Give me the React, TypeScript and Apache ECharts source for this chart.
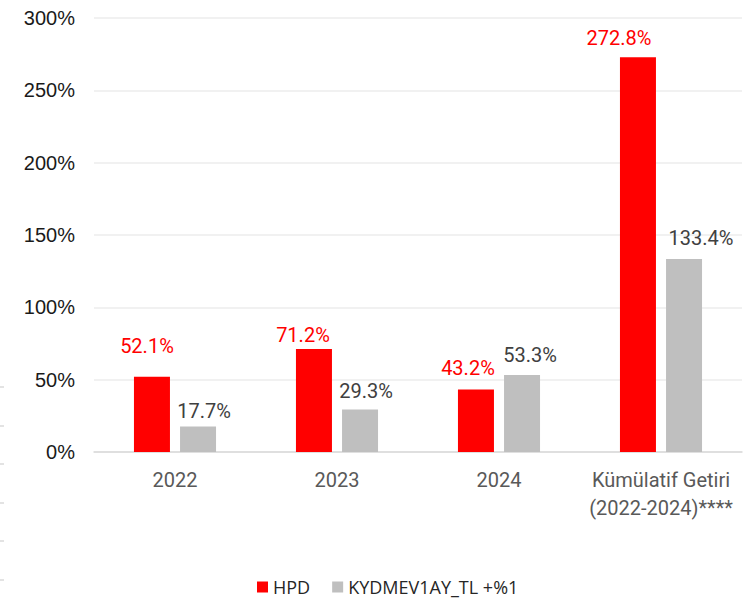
import React, { useEffect, useRef } from "react";
import * as echarts from "echarts";

const categories = ["2022", "2023", "2024", "Kümülatif Getiri\n(2022-2024)****"];
const hpdValues = [52.1, 71.2, 43.2, 272.8];
const kydValues = [17.7, 29.3, 53.3, 133.4];
const seriesNames = ["HPD", "KYDMEV1AY_TL +%1"];
const hpdLabelOffsets = [[-5, -16], [-11, 1], [-8, -7], [-19, -4]];
const kydLabelOffsets = [[6, 0], [6, -4], [8, -5], [17, -6]];
const edgeDashY = [387, 426, 464, 503, 541, 580];

export default function App() {
  const ref = useRef<HTMLDivElement>(null);
  useEffect(() => {
    if (!ref.current) return;
    const chart = echarts.init(ref.current, undefined, { renderer: "svg" });
    const fmt = (p: any) => Number(p.value).toFixed(1) + "%";
    chart.setOption({
      animation: false,
      backgroundColor: "#ffffff",
      grid: { left: 94, right: 3, top: 18, bottom: 152, containLabel: false },
      legend: {
        left: 257,
        top: 578,
        padding: 0,
        itemWidth: 11,
        itemHeight: 11,
        itemGap: 22,
        icon: "rect",
        textStyle: { fontFamily: "Open Sans", fontSize: 18, color: "#262626" },
        data: seriesNames,
      },
      xAxis: {
        type: "category",
        data: categories,
        axisTick: { show: false },
        axisLine: { lineStyle: { color: "#d9d9d9", width: 1.5 } },
        axisLabel: {
          interval: 0,
          margin: 14,
          fontFamily: "Roboto",
          fontSize: 20,
          color: "#595959",
          lineHeight: 28,
        },
      },
      yAxis: {
        type: "value",
        min: 0,
        max: 300,
        interval: 50,
        axisLine: { show: false },
        axisTick: { show: false },
        splitLine: { lineStyle: { color: "#ececec", width: 1.5 } },
        axisLabel: {
          margin: 19,
          fontFamily: "Liberation Sans",
          fontSize: 20,
          color: "#1a1a1a",
          formatter: (v: number) => v + "%",
        },
      },
      series: [
        {
          name: seriesNames[0],
          type: "bar",
          barWidth: 36,
          barGap: "28%",
          itemStyle: { color: "#ff0000" },
          data: hpdValues.map((v, i) => ({
            value: v,
            label: { offset: hpdLabelOffsets[i] },
          })),
          label: {
            show: true,
            position: "top",
            formatter: fmt,
            fontFamily: "Roboto",
            fontSize: 20,
            color: "#ff0000",
          },
        },
        {
          name: seriesNames[1],
          type: "bar",
          barWidth: 36,
          itemStyle: { color: "#bfbfbf" },
          data: kydValues.map((v, i) => ({
            value: v,
            label: { offset: kydLabelOffsets[i] },
          })),
          label: {
            show: true,
            position: "top",
            formatter: fmt,
            fontFamily: "Roboto",
            fontSize: 20,
            color: "#404040",
          },
        },
      ],
      graphic: edgeDashY.map((y) => ({
        type: "rect",
        shape: { x: 0, y: y - 1, width: 4, height: 2 },
        style: { fill: "#e3e3e3" },
        silent: true,
      })),
    });
    return () => chart.dispose();
  }, []);
  return <div ref={ref} style={{ width: 745, height: 604, position: "absolute", left: 0, top: 0 }} />;
}
